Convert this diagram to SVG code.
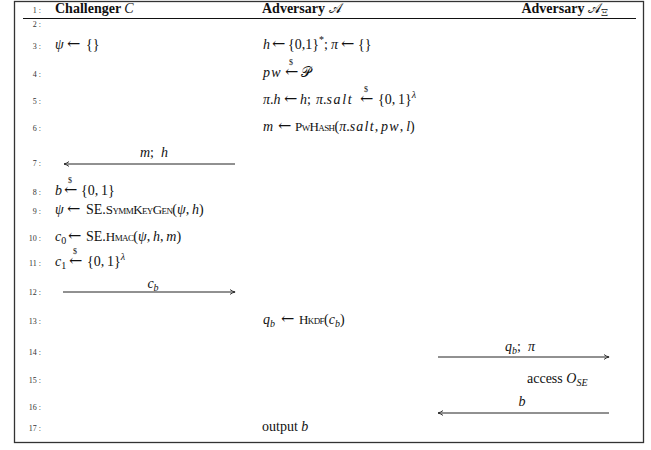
<svg xmlns="http://www.w3.org/2000/svg" width="651" height="450" viewBox="0 0 651 450">
<style>
text{font-family:"Liberation Serif","DejaVu Serif",serif;font-size:14px;fill:#111}
.n{font-size:8px;fill:#333;text-anchor:end}
.i{font-style:italic}
.w{letter-spacing:1.2px}
.w2{letter-spacing:1.6px}
.b{font-weight:bold}
.sc{font-variant:small-caps;font-size:13px;letter-spacing:-0.6px}
.s{font-size:10px}
.ar{font-family:"DejaVu Serif",serif;font-size:16px;font-style:normal}
.d{font-size:8px;text-anchor:middle}
.cal{font-family:"DejaVu Serif","DejaVu Sans","Noto Sans",serif;font-style:normal;font-weight:normal}
.mid{text-anchor:middle}
.end{text-anchor:end}
.conn line{stroke:#222;stroke-width:1;fill:none}
</style>
<defs>
<marker id="ah" viewBox="0 0 6 6" refX="5.5" refY="3" markerWidth="6" markerHeight="6" markerUnits="userSpaceOnUse" orient="auto"><path d="M0.5,0.6 Q3,2.4 5.6,3 Q3,3.6 0.5,5.4" fill="none" stroke="#222" stroke-width="0.9"/></marker>
</defs>
<rect x="14.5" y="1.5" width="629" height="441" fill="#fff" stroke="#333" stroke-width="1.3"/>
<line x1="23" y1="18.5" x2="636" y2="18.5" stroke="#111" stroke-width="1"/>
<g id="linenumbers">
<text class="n" x="41" y="13">1 :</text>
<text class="n" x="41" y="27">2 :</text>
<text class="n" x="41" y="49">3 :</text>
<text class="n" x="41" y="77">4 :</text>
<text class="n" x="41" y="104">5 :</text>
<text class="n" x="41" y="131">6 :</text>
<text class="n" x="41" y="166">7 :</text>
<text class="n" x="41" y="195">8 :</text>
<text class="n" x="41" y="214">9 :</text>
<text class="n" x="41" y="241">10 :</text>
<text class="n" x="41" y="266">11 :</text>
<text class="n" x="41" y="295">12 :</text>
<text class="n" x="41" y="324">13 :</text>
<text class="n" x="41" y="355">14 :</text>
<text class="n" x="41" y="383">15 :</text>
<text class="n" x="41" y="410">16 :</text>
<text class="n" x="41" y="431">17 :</text>
</g>
<g id="challenger">
<text x="55" y="13" class="b">Challenger <tspan class="i" font-weight="normal">C</tspan></text>
<text x="55" y="49"><tspan class="i">ψ</tspan><tspan x="67" class="ar">←</tspan><tspan x="86">{}</tspan></text>
<text x="55" y="195"><tspan class="i">b</tspan><tspan x="64" class="ar">←</tspan><tspan x="81">{0,&#8201;1}</tspan></text>
<text class="d" x="70" y="183">$</text>
<text x="55" y="214"><tspan class="i">ψ</tspan><tspan x="67" class="ar">←</tspan><tspan x="86">SE.</tspan><tspan class="sc">SymmKeyGen</tspan>(<tspan class="i">ψ</tspan>,&#8201;<tspan class="i">h</tspan>)</text>
<text x="55" y="241"><tspan class="i">c</tspan><tspan class="s" dy="3">0</tspan><tspan x="68" dy="-3" class="ar">←</tspan><tspan x="86">SE.</tspan><tspan class="sc">Hmac</tspan>(<tspan class="i">ψ</tspan>,&#8201;<tspan class="i">h</tspan>,&#8201;<tspan class="i">m</tspan>)</text>
<text x="55" y="266"><tspan class="i">c</tspan><tspan class="s" dy="3">1</tspan><tspan x="69" dy="-3" class="ar">←</tspan><tspan x="87">{0,&#8201;1}</tspan><tspan class="s i" dy="-6">λ</tspan></text>
<text class="d" x="75" y="254">$</text>
</g>
<g id="adversary">
<text x="262" y="13" class="b">Adversary <tspan class="cal">𝒜</tspan></text>
<text x="263" y="49"><tspan class="i">h</tspan><tspan x="272" class="ar">←</tspan><tspan x="288">{0,1}</tspan><tspan class="s" dy="-6">*</tspan><tspan x="324" dy="6">;</tspan><tspan x="331" class="i">π</tspan><tspan x="341" class="ar">←</tspan><tspan x="358">{}</tspan></text>
<text x="263" y="77"><tspan class="i w">pw</tspan><tspan x="285" class="ar">←</tspan><tspan x="301" class="cal">𝒫</tspan></text>
<text class="d" x="291" y="65">$</text>
<text x="263" y="104"><tspan class="i">π</tspan>.<tspan class="i">h</tspan><tspan x="284" class="ar">←</tspan><tspan x="300" class="i">h</tspan>;<tspan x="316" class="i">π</tspan>.<tspan class="i w2">salt</tspan><tspan x="360" class="ar">←</tspan><tspan x="378">{0,&#8201;1}</tspan><tspan class="s i" dy="-6">λ</tspan></text>
<text class="d" x="366" y="92">$</text>
<text x="263" y="131"><tspan class="i">m</tspan><tspan x="278" class="ar">←</tspan><tspan x="295" class="sc">PwHash</tspan>(<tspan class="i">π</tspan>.<tspan class="i w">salt</tspan>,&#8201;<tspan class="i w">pw</tspan>,&#8201;<tspan class="i">l</tspan>)</text>
<text x="263" y="324"><tspan class="i">q</tspan><tspan class="s i" dy="3">b</tspan><tspan x="281" dy="-3" class="ar">←</tspan><tspan x="299" class="sc">Hkdf</tspan>(<tspan class="i">c</tspan><tspan class="s i" dy="3">b</tspan><tspan dy="-3">)</tspan></text>
<text x="262" y="431">output <tspan class="i">b</tspan></text>
</g>
<g id="adversary-xi">
<text x="608" y="13" class="b end">Adversary <tspan class="cal">𝒜</tspan><tspan class="s cal" dy="3">Ξ</tspan></text>
<text x="527" y="383">access <tspan class="i">O</tspan><tspan class="s i" dy="3">SE</tspan></text>
</g>
<g id="connectors" class="conn">
<line x1="235" y1="164" x2="64" y2="164" marker-end="url(#ah)"/>
<text x="154" y="157" class="mid"><tspan class="i">m</tspan>;&#8194;<tspan class="i">h</tspan></text>
<line x1="63" y1="292" x2="235" y2="292" marker-end="url(#ah)"/>
<text x="153" y="288" class="mid"><tspan class="i">c</tspan><tspan class="s i" dy="3">b</tspan></text>
<line x1="438" y1="357" x2="609" y2="357" marker-end="url(#ah)"/>
<text x="520" y="351" class="mid"><tspan class="i">q</tspan><tspan class="s i" dy="3">b</tspan><tspan dy="-3">;&#8194;</tspan><tspan class="i">π</tspan></text>
<line x1="609" y1="413" x2="438" y2="413" marker-end="url(#ah)"/>
<text x="522" y="406" class="mid i">b</text>
</g>
</svg>
